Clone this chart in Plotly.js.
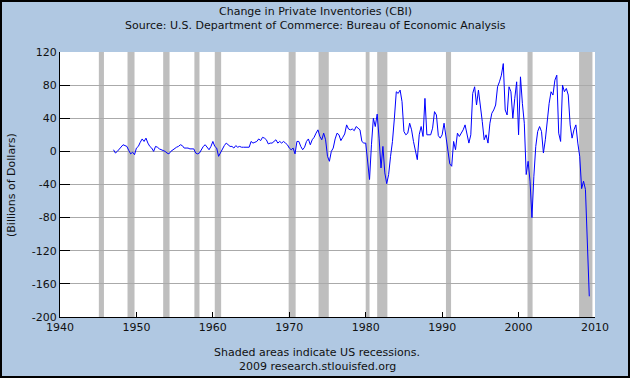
<!DOCTYPE html>
<html>
<head>
<meta charset="utf-8">
<script src="https://cdn.plot.ly/plotly-3.0.1.min.js"></script>
<style>
  html, body { margin: 0; padding: 0; background: #b0c8e2; }
  #chart { width: 630px; height: 378px; }
  #frame { position: absolute; left: 0; top: 0; width: 630px; height: 378px;
           box-sizing: border-box; border: 2px solid #000; pointer-events: none; }
</style>
</head>
<body>
<div id="chart"></div>
<div id="frame"></div>
<script>
// ---- Data (quarterly, billions of dollars, SAAR) ----
const startYear = 1947;           // first observation: 1947 Q1
const cbiValues = [
  // 1947
  2, -2, 0, 3,
  // 1948
  5, 8, 7, 6,
  // 1949
  1, -3, -1, -4,
  // 1950
  4, 6, 11, 15,
  // 1951
  12, 16, 10, 6,
  // 1952
  4, 0, 6, 5,
  // 1953
  3, 2, 1, 0,
  // 1954
  -2, -3, 0, 2,
  // 1955
  4, 5, 6, 8,
  // 1956
  7, 4, 4, 4,
  // 1957
  3, 3, 3, -2,
  // 1958
  -3, -2, 3, 6,
  // 1959
  8, 5, 2, 6,
  // 1960
  12, 6, 4, -6,
  // 1961
  -1, 3, 7, 10,
  // 1962
  8, 6, 6, 4,
  // 1963
  7, 5, 6, 5,
  // 1964
  5, 5, 5, 5,
  // 1965
  12, 10, 11, 12,
  // 1966
  15, 13, 17, 16,
  // 1967
  14, 9, 10, 10,
  // 1968
  12, 14, 10, 12,
  // 1969
  10, 12, 10, 8,
  // 1970
  4, 2, 4, -3,
  // 1971
  12, 12, 6, 2,
  // 1972
  5, 12, 15, 8,
  // 1973
  14, 17, 22, 26,
  // 1974
  18, 14, 22, 14,
  // 1975
  -6, -12, 0, 4,
  // 1976
  15, 22, 20, 13,
  // 1977
  17, 21, 32, 27,
  // 1978
  26, 27, 25, 30,
  // 1979
  28, 26, 12, 10,
  // 1980
  10, -14, -34, 8,
  // 1981
  40, 30, 45, 16,
  // 1982
  -20, 6, -26, -39,
  // 1983
  -28, -6, 12, 40,
  // 1984
  72, 70, 74, 60,
  // 1985
  24, 20, 22, 34,
  // 1986
  26, 12, 0, -10,
  // 1987
  20, 30, 18, 64,
  // 1988
  20, 20, 20, 28,
  // 1989
  48, 44, 19, 16,
  // 1990
  20, 34, 16, -4,
  // 1991
  -15, -18, 12, 2,
  // 1992
  22, 18, 22, 26,
  // 1993
  32, 22, 10, 20,
  // 1994
  70, 78, 56, 74,
  // 1995
  58, 36, 14, 20,
  // 1996
  10, 34, 46, 50,
  // 1997
  56, 78, 84, 92,
  // 1998
  106, 50, 44, 78,
  // 1999
  72, 40, 64, 84,
  // 2000
  20, 90, 58, 34,
  // 2001
  -28, -12, -36, -80,
  // 2002
  -30, 6, 24, 30,
  // 2003
  24, -2, 14, 40,
  // 2004
  58, 72, 68, 86,
  // 2005
  92, 22, 12, 80,
  // 2006
  72, 76, 68, 32,
  // 2007
  16, 26, 32, 10,
  // 2008
  -6, -45, -36, -46,
  // 2009
  -110, -175
];

// NBER recessions (start, end) as "YYYY-MM"
const recessionStarts = ['1945-02','1948-11','1953-07','1957-08','1960-04','1969-12','1973-11','1980-01','1981-07','1990-07','2001-03','2007-12'];
const recessionEnds   = ['1945-10','1949-10','1954-05','1958-04','1961-02','1970-11','1975-03','1980-07','1982-11','1991-03','2001-11','2009-09'];

const xTickVals = [1940, 1950, 1960, 1970, 1980, 1990, 2000, 2010];
const yTickVals = [-200, -160, -120, -80, -40, 0, 40, 80, 120];

const titleLine1 = 'Change in Private Inventories (CBI)';
const titleLine2 = 'Source: U.S. Department of Commerce: Bureau of Economic Analysis';
const yTitle = '(Billions of Dollars)';
const footer1 = 'Shaded areas indicate US recessions.';
const footer2 = '2009 research.stlouisfed.org';

// ---- Build ----
const xDates = cbiValues.map((_, i) => startYear + i / 4);
function ym(s) { const p = s.split('-'); return +p[0] + (+p[1] - 1) / 12; }

const W = 630, H = 378;
const M = { l: 60, r: 35, t: 52, b: 61 };
const plotH = H - M.t - M.b;
const plotW = W - M.l - M.r;
const py = px => (H - M.b - px) / plotH;   // pixel y -> paper y
const pxX = px => (px - M.l) / plotW;       // pixel x -> paper x

const shapes = recessionStarts.map((s, i) => ({
  type: 'rect', xref: 'x', yref: 'paper',
  x0: ym(s), x1: ym(recessionEnds[i]), y0: 0, y1: 1,
  fillcolor: '#bebebe', line: { width: 0 }, layer: 'between'
}));

const font = { family: 'DejaVu Sans, Verdana, sans-serif', size: 11, color: '#111' };

const trace = {
  x: xDates, y: cbiValues, type: 'scatter', mode: 'lines',
  line: { color: '#0000ff', width: 1 }, hoverinfo: 'skip'
};

const layout = {
  width: W, height: H,
  margin: M,
  paper_bgcolor: '#b0c8e2',
  plot_bgcolor: '#ffffff',
  showlegend: false,
  font: font,
  xaxis: {
    type: 'linear', range: [1940, 2010],
    tickmode: 'array', tickvals: xTickVals, ticktext: xTickVals.map(String),
    ticks: 'inside', ticklen: 5, tickcolor: '#000', tickwidth: 1,
    showline: true, linecolor: '#000', linewidth: 1,
    showgrid: false, zeroline: false, tickfont: font
  },
  yaxis: {
    range: [-200, 120],
    tickmode: 'array', tickvals: yTickVals, ticktext: yTickVals.map(String),
    ticks: 'inside', ticklen: 10, tickcolor: '#000', tickwidth: 1,
    showline: true, linecolor: '#000', linewidth: 1,
    showgrid: true, gridcolor: '#aaaaaa', gridwidth: 1,
    zeroline: false, tickfont: font
  },
  shapes: shapes,
  annotations: [
    { text: titleLine1, xref: 'paper', yref: 'paper', x: pxX(315), y: py(11), showarrow: false, xanchor: 'center', yanchor: 'middle', font: font },
    { text: titleLine2, xref: 'paper', yref: 'paper', x: pxX(315), y: py(25), showarrow: false, xanchor: 'center', yanchor: 'middle', font: font },
    { text: yTitle, xref: 'paper', yref: 'paper', x: pxX(11), y: py(185), showarrow: false, textangle: -90, xanchor: 'center', yanchor: 'middle', font: font },
    { text: footer1, xref: 'paper', yref: 'paper', x: pxX(317), y: py(352), showarrow: false, xanchor: 'center', yanchor: 'middle', font: font },
    { text: footer2, xref: 'paper', yref: 'paper', x: pxX(317), y: py(366), showarrow: false, xanchor: 'center', yanchor: 'middle', font: font }
  ]
};

Plotly.newPlot('chart', [trace], layout, { staticPlot: true, displayModeBar: false });
</script>
</body>
</html>
